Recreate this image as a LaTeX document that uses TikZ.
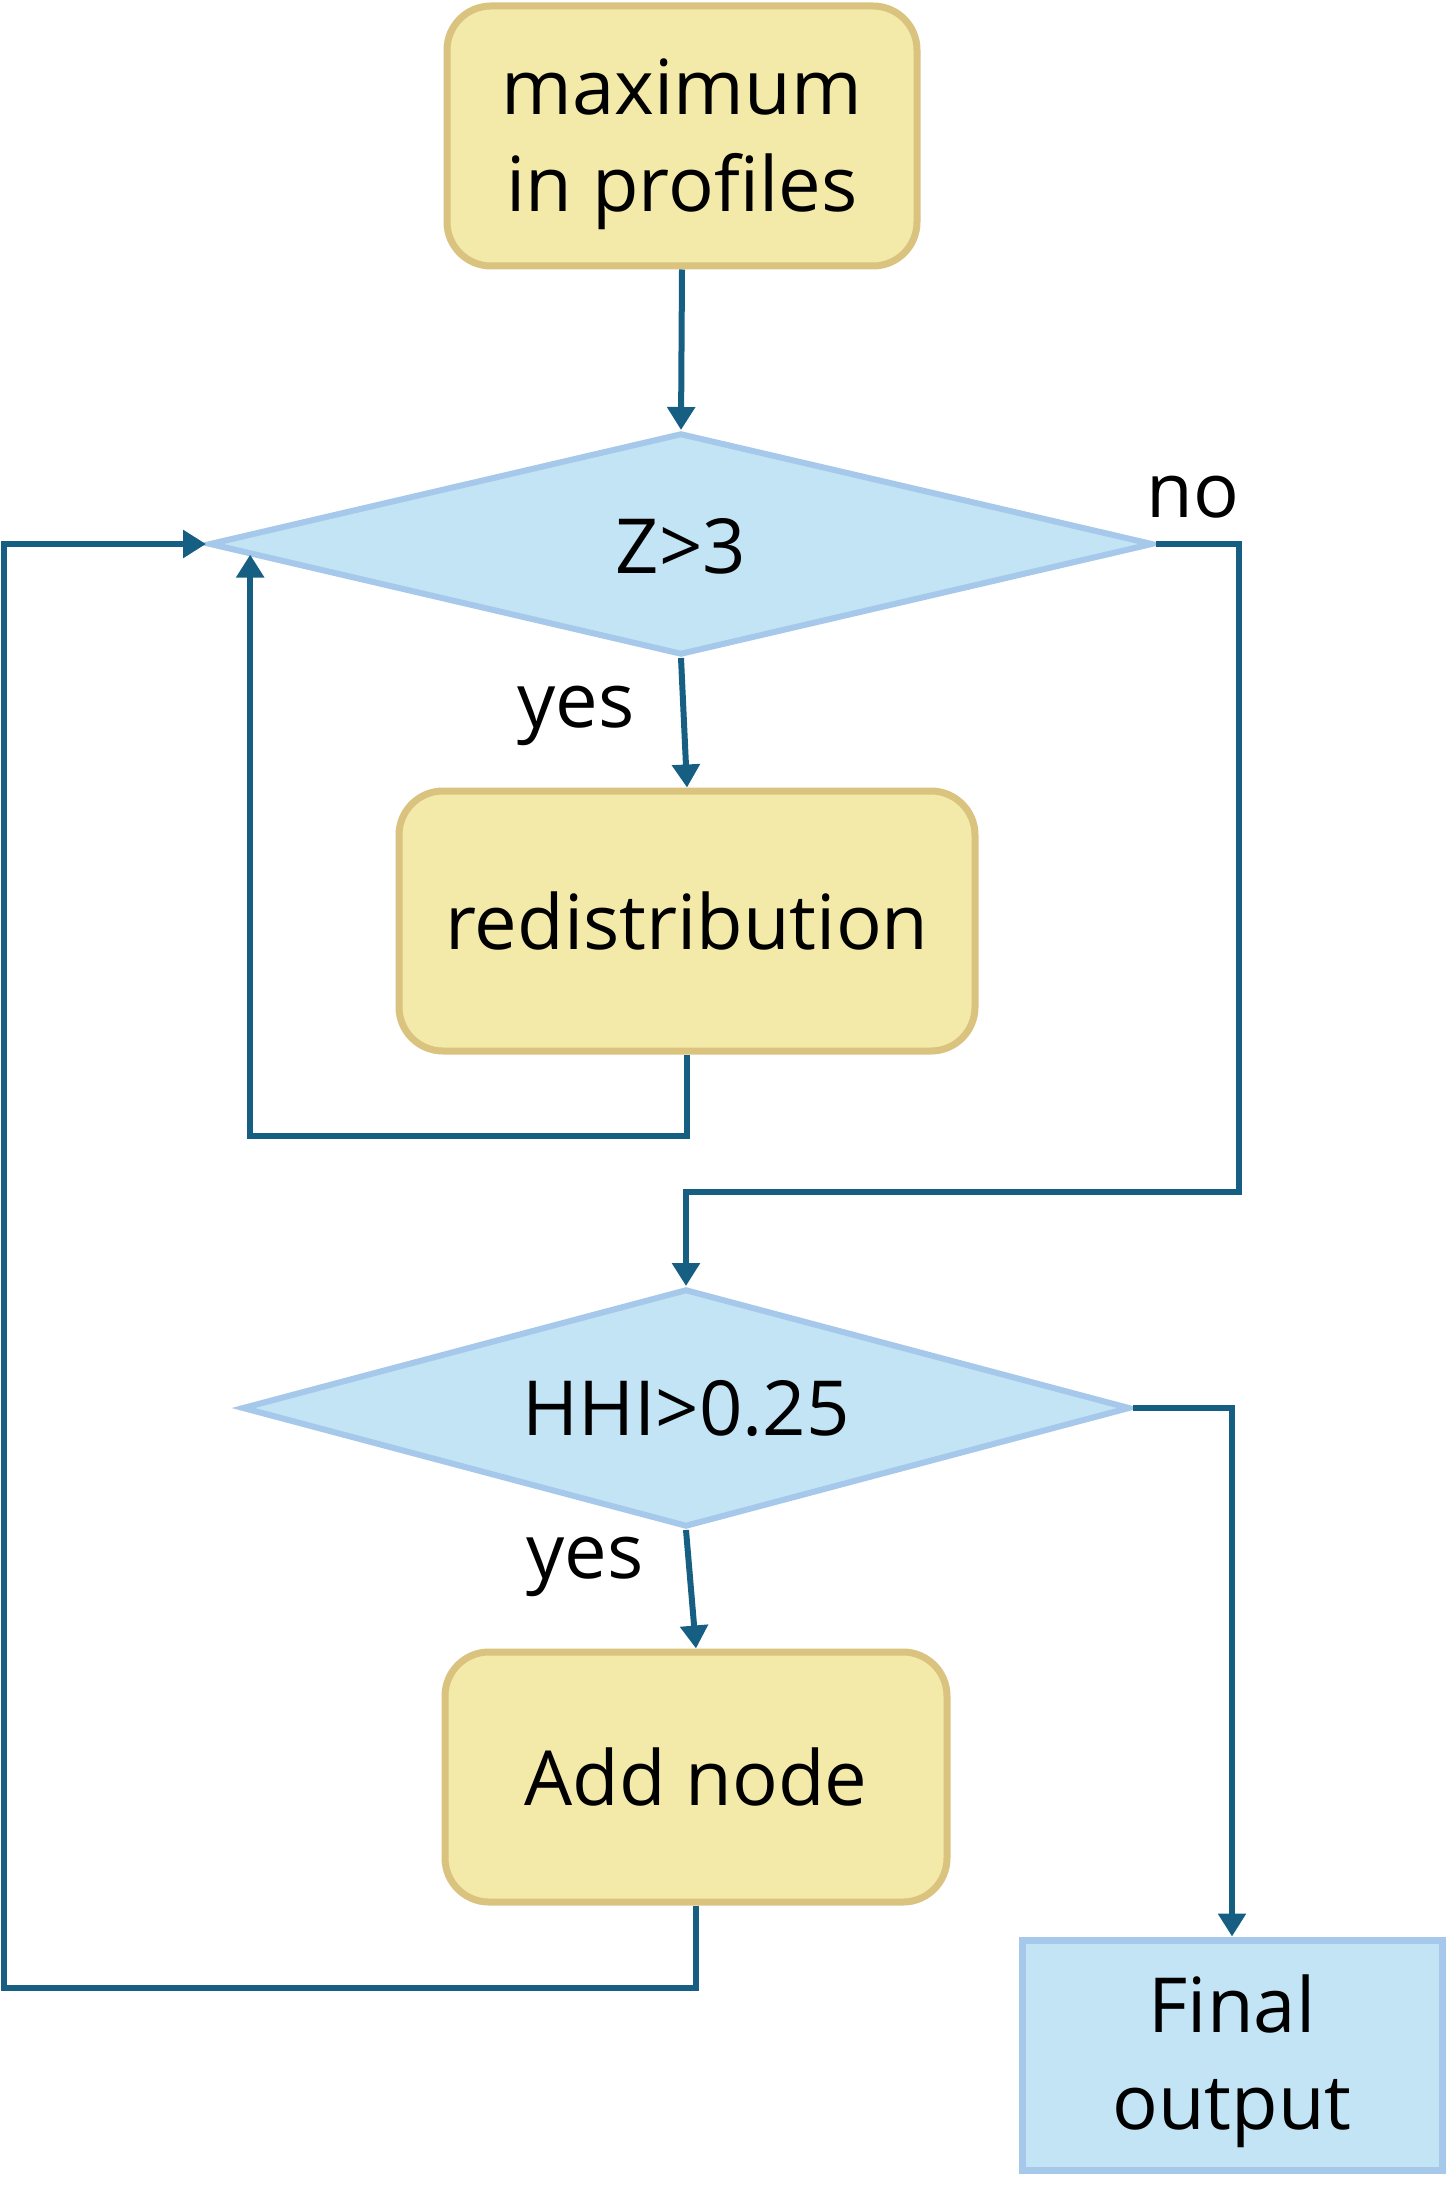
\documentclass[tikz,border=0pt]{standalone}
\usepackage{fontspec}
\setmainfont{Open Sans}
\usetikzlibrary{shapes.geometric,arrows.meta,calc}
\definecolor{yfill}{HTML}{F3EAA9}
\definecolor{ydraw}{HTML}{DAC27F}
\definecolor{bfill}{HTML}{C2E4F4}
\definecolor{bdraw}{HTML}{A6C8EA}
\definecolor{arr}{HTML}{175F82}
\begin{document}
\begin{tikzpicture}[x=0.5pt,y=-0.5pt,
  every node/.style={font=\fontsize{38}{48.5}\selectfont, text=black},
  ybox/.style={rectangle, rounded corners=22pt, fill=yfill, draw=ydraw, line width=3.5pt, align=center, inner sep=0pt},
  bdia/.style={diamond, fill=bfill, draw=bdraw, line width=3pt, inner sep=0pt},
  bbox/.style={rectangle, fill=bfill, draw=bdraw, line width=3.5pt, align=center, inner sep=0pt},
  conn/.style={draw=arr, line width=3pt, -{Triangle[length=11.5pt,width=13.5pt]}},
  lbl/.style={inner sep=0pt}
]
\useasboundingbox (0,0) rectangle (1448,2204);
\node[ybox, minimum width=235pt, minimum height=130pt] (top) at (682,136) {\rule{0pt}{36pt}maximum\\in profiles};
\node[bdia, minimum width=472pt, minimum height=111pt] (z) at (681,544) {};
\node[lbl] (zt) at (681,546) {Z>3};
\node[ybox, minimum width=288pt, minimum height=130pt] (red) at (687,921) {redistribution};
\node[bdia, minimum width=444pt, minimum height=119pt] (hhi) at (686,1408) {};
\node[lbl] (hhit) at (686,1408) {HHI>0.25};
\node[ybox, minimum width=251pt, minimum height=125pt] (add) at (696,1777) {Add node};
\node[bbox, minimum width=210pt, minimum height=115pt] (fin) at (1232,2055) {\rule{0pt}{35pt}Final\\output};

\node[lbl] (no) at (1193,497) {no};
\node[lbl] (yes1) at (576,716) {yes};
\node[lbl] (yes2) at (585,1567) {yes};

\draw[conn] (top.south) -- (z.north);
\draw[conn] (z.south) -- (red.north);
\draw[conn] (red.south) -- ($(red.south)+(0,81)$) -| ($(z.west)!0.093!(z.south)$);
\draw[conn] (z.east) -- ($(z.east)+(83,0)$) |- ($(hhi.north)+(0,-94)$) -- (hhi.north);
\draw[conn] (hhi.south) -- (add.north);
\draw[conn] (hhi.east) -| (fin.north);
\draw[conn] (add.south) -- ($(add.south)+(0,82)$) -| (4,1780) |- (z.west);
\end{tikzpicture}
\end{document}
